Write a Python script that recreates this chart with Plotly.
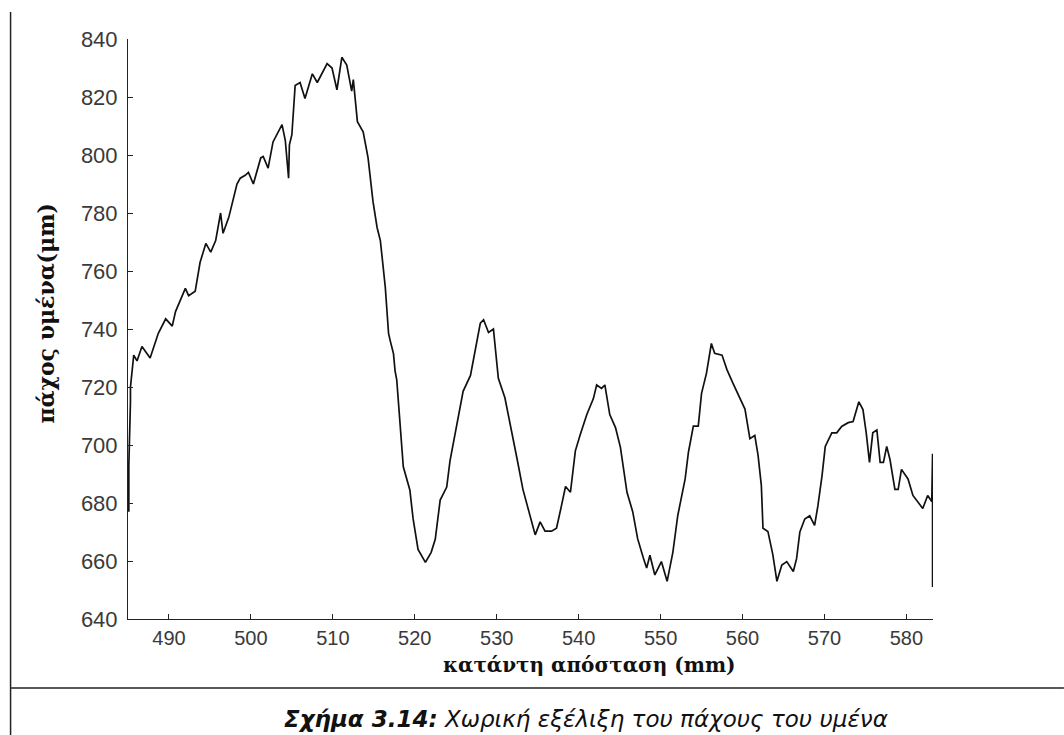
import plotly.graph_objects as go

# Downstream distance (mm) and film thickness (μm) along the measured profile
distance_mm = [
    485.1, 485.1, 485.1, 485.1, 485.3, 485.3, 485.7, 486.1, 486.7, 487.7,
    488.7, 489.6, 490.4, 490.8, 492.0, 492.4, 493.2, 493.8, 494.5, 495.1,
    495.7, 496.3, 496.6, 497.3, 498.3, 498.7, 499.3, 499.7, 500.3, 501.2,
    501.5, 502.1, 502.7, 503.2, 503.8, 504.2, 504.6, 504.7, 505.0, 505.4,
    506.0, 506.6, 507.5, 508.1, 509.3, 509.9, 510.5, 511.1, 511.7, 512.3,
    512.5, 513.0, 513.7, 514.3, 514.9, 515.4, 515.8, 516.4, 516.8, 517.0,
    517.4, 517.6, 517.8, 518.0, 518.6, 519.4, 519.8, 520.4, 521.3, 522.0,
    522.5, 523.1, 523.9, 524.3, 525.1, 525.9, 526.8, 527.4, 528.0, 528.4,
    529.0, 529.6, 530.2, 531.0, 531.9, 532.5, 533.2, 534.1, 534.7, 535.3,
    535.9, 536.7, 537.3, 537.9, 538.4, 539.0, 539.6, 540.2, 541.0, 541.8,
    542.2, 542.8, 543.2, 543.8, 544.5, 545.1, 545.9, 546.6, 547.2, 547.9,
    548.3, 548.7, 549.3, 550.1, 550.8, 551.5, 552.1, 553.0, 553.4, 554.0,
    554.6, 555.0, 555.6, 556.2, 556.6, 557.5, 558.1, 558.8, 559.7, 560.3,
    560.9, 561.5, 561.9, 562.3, 562.5, 563.1, 563.7, 564.2, 564.8, 565.4,
    566.2, 566.6, 567.0, 567.6, 568.2, 568.8, 569.2, 569.7, 570.1, 570.9,
    571.5, 572.1, 572.9, 573.5, 574.2, 574.7, 575.1, 575.5, 575.9, 576.4,
    576.8, 577.2, 577.6, 578.0, 578.6, 579.0, 579.4, 580.2, 580.8, 581.4,
    582.0, 582.6, 583.1, 583.2, 583.2, 583.2, 583.2, 583.2,
]
thickness_um = [
    680, 692, 677, 693, 715, 720, 731, 729, 734, 730,
    738.5, 743.5, 741, 746, 754, 751.5, 753, 763, 769.5, 766.5,
    770.5, 780, 773, 778.5, 790, 792, 793, 794, 790, 799,
    799.5, 795.5, 804.5, 807, 810.5, 805, 792, 803.5, 807, 824,
    825, 819.5, 828, 825, 831.5, 830, 822.5, 833.7, 831, 822,
    826, 811.5, 808, 799, 784, 775, 770.5, 754.5, 738.5, 736,
    731.5, 725.5, 722.5, 715, 692.5, 684.5, 674.5, 664, 659.5, 663,
    667.5, 681, 685.5, 694.5, 707, 718.5, 724, 733, 742, 743.2,
    738.8, 740, 723, 716.3, 704, 695, 684.7, 675.7, 669, 673.5,
    670.3, 670.3, 671.3, 679, 685.7, 683.7, 698, 703.6, 710.5, 716,
    720.7, 719.5, 720.7, 710.5, 706, 699.2, 683.7, 677, 667.7, 661,
    657.6, 662, 655.2, 659.8, 653, 663, 675.7, 688.3, 697.5, 706.5,
    706.5, 717.8, 724.7, 735, 731.6, 731, 726, 721.5, 715.7, 712.4,
    702.2, 703.3, 696.4, 686, 671.3, 670.2, 662.2, 653, 658.6, 659.8,
    656.4, 660.8, 670, 674.5, 675.6, 672.3, 679, 689.3, 699.5, 704.2,
    704.2, 706.4, 707.7, 708.1, 714.9, 712.2, 704.2, 694, 704.2, 705.2,
    694, 694, 699.5, 695, 684.7, 684.7, 691.6, 688.3, 682.6, 680.5,
    678.1, 682.6, 680.5, 697, 671, 684, 651, 678,
]

x_ticks = [490, 500, 510, 520, 530, 540, 550, 560, 570, 580]
y_ticks = [640, 660, 680, 700, 720, 740, 760, 780, 800, 820, 840]

x_title = "κατάντη απόσταση (mm)"
y_title = "πάχος υμένα(μm)"
caption_bold = "Σχήμα 3.14:"
caption_rest = " Χωρική εξέλιξη του πάχους του υμένα"

fig = go.Figure()
fig.add_trace(go.Scatter(
    x=distance_mm, y=thickness_um, mode="lines",
    line=dict(color="#111111", width=1.7),
    showlegend=False, hoverinfo="skip",
))

y_tick_font = dict(family="Liberation Sans", size=22, color="#3a3a3a")
x_tick_font = dict(family="Liberation Sans", size=20, color="#3a3a3a")
fig.update_xaxes(
    range=[485, 583.25], tickvals=x_ticks, ticks="inside", ticklen=5,
    tickcolor="#222222", showline=True, linecolor="#222222", linewidth=1,
    showgrid=False, zeroline=False, tickfont=x_tick_font, mirror=False,
    ticklabelstandoff=1,
)
fig.update_yaxes(
    range=[640, 840], tickvals=y_ticks, ticks="inside", ticklen=5,
    tickcolor="#222222", showline=True, linecolor="#222222", linewidth=1,
    showgrid=False, zeroline=False, tickfont=y_tick_font, mirror=False,
    ticklabelstandoff=5,
)

L, R, T, B = 127.5, 131, 39, 116
W, H = 1064, 735
pw, ph = W - L - R, H - T - B


def px(xp):
    return (xp - L) / pw


def py(yp):
    return (H - B - yp) / ph


frame = dict(color="#222222", width=1.5)
shapes = [
    dict(type="line", xref="paper", yref="paper",
         x0=px(10), x1=px(10), y0=py(12), y1=py(735), line=frame),
    dict(type="line", xref="paper", yref="paper",
         x0=px(10), x1=px(1064), y0=py(688), y1=py(688), line=frame),
]

annotations = [
    dict(text=f"<b>{x_title}</b>", xref="paper", yref="paper",
         x=px(589), y=py(665), showarrow=False, xanchor="center", yanchor="middle",
         font=dict(family="DejaVu Serif", size=20, color="#111111")),
    dict(text=f"<b>{y_title}</b>", xref="paper", yref="paper",
         x=px(45), y=py(314), showarrow=False, xanchor="center", yanchor="middle",
         textangle=-90,
         font=dict(family="DejaVu Serif", size=22, color="#111111")),
    dict(text=f"<b><i>{caption_bold}</i></b><i>{caption_rest}</i>",
         xref="paper", yref="paper",
         x=px(586), y=py(719), showarrow=False, xanchor="center", yanchor="middle",
         font=dict(family="DejaVu Sans", size=23, color="#111111")),
]

fig.update_layout(
    width=W, height=H,
    margin=dict(l=L, r=R, t=T, b=B, pad=0),
    paper_bgcolor="white", plot_bgcolor="white",
    shapes=shapes, annotations=annotations,
)

fig.write_html("out.html")
